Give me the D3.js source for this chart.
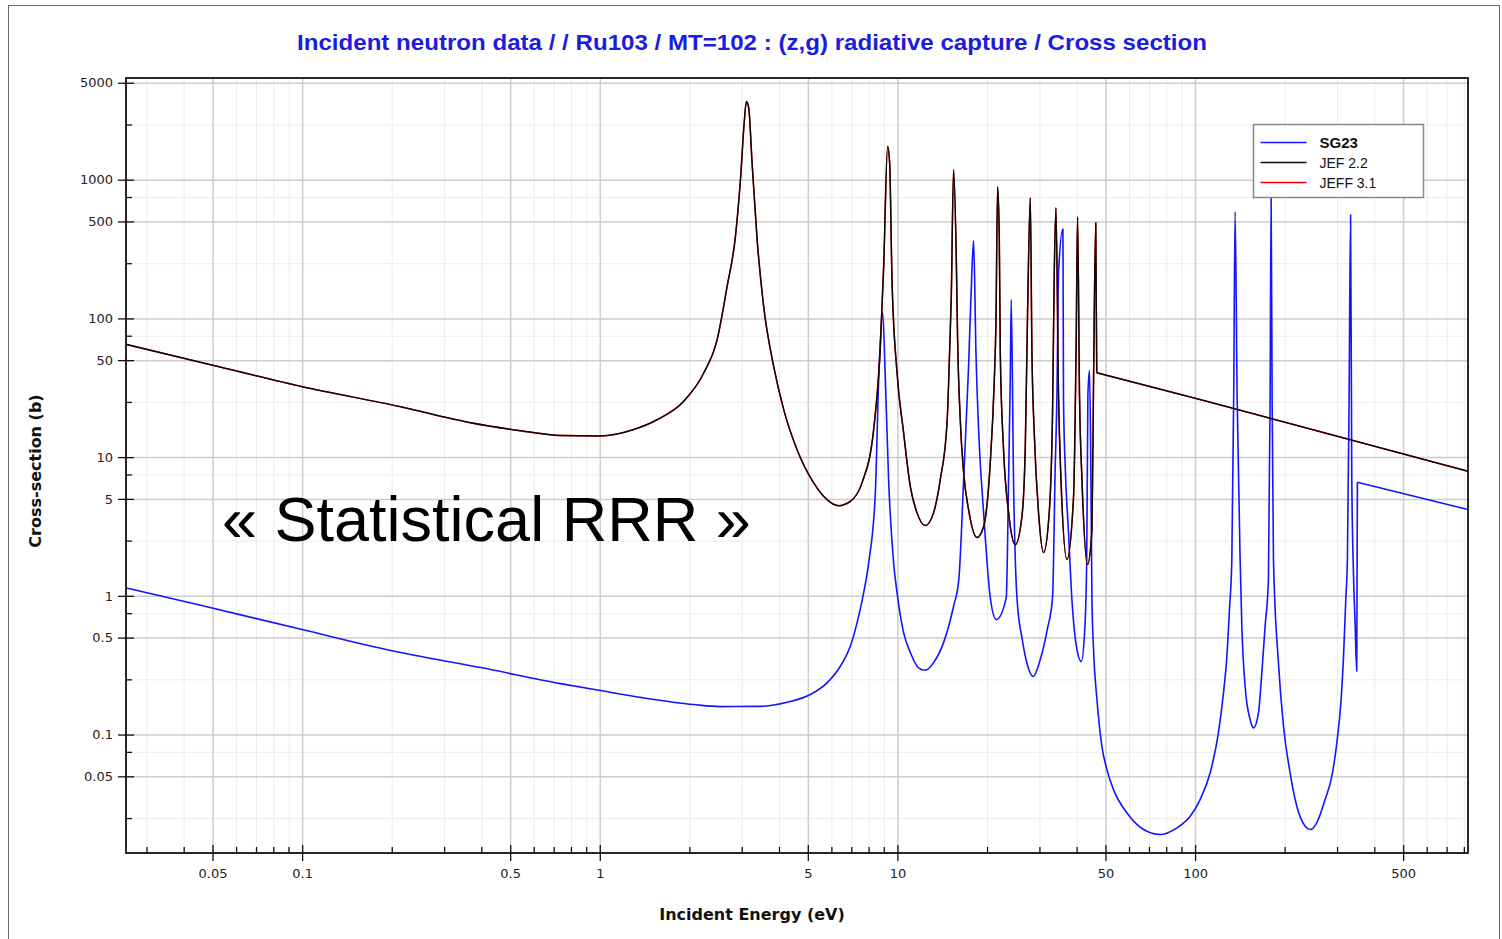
<!DOCTYPE html>
<html>
<head>
<meta charset="utf-8">
<script src="https://cdn.jsdelivr.net/npm/d3@7"></script>
<style>
body { margin: 0; background: #fff; }
svg { display: block; }
.tick text { font-family: "DejaVu Sans", sans-serif; font-size: 13px; fill: #222; }
</style>
</head>
<body>
<div id="chart"></div>
<script>
// values: incident energy (eV) and cross-section (b)
var sg23E = [0.0256, 0.0456, 0.1, 0.214, 0.3975, 0.738, 1.005, 1.405, 2.068, 2.543,
	3.464, 4.26, 5.10, 5.80, 6.43, 6.947, 7.317, 7.70, 8.006, 8.43,
	8.65, 8.92, 9.11, 9.34, 9.71, 9.97, 10.49, 11.05, 11.78, 12.41,
	13.23, 14.29, 15.44, 16.08, 16.69, 17.34, 17.80, 18.03, 18.36, 18.74,
	19.48, 20.51, 21.48, 23.21, 23.63, 23.94, 24.12, 24.55, 25.21, 26.27,
	27.31, 28.6, 30.19, 31.87, 33.2, 33.9, 34.35, 34.78, 35.98, 36.14,
	36.62, 37.57, 38.57, 40.1, 41.46, 42.6, 43.25, 43.65, 44.2, 44.67,
	45.04, 45.6, 46.81, 48.64, 50.56, 53.2, 59.0, 67.1, 76.3, 86.9,
	96.3, 104.0, 112.4, 119.8, 124.6, 127.9, 130.5, 132.9, 134.8, 136.3,
	138.5, 141.7, 143.6, 147.3, 153.1, 157.1, 163.3, 167.6, 171.9, 176.4,
	178.7, 180.1, 181.5, 183.4, 190.6, 198.2, 208.6, 219.7, 234.3, 243.5,
	256.4, 273.5, 288.0, 299.4, 309.5, 315.0, 320.9, 324.9, 329.2, 333.0,
	336.1, 340.3, 344.8, 349.3, 351.0, 826];
var sg23Xs = [1.14, 0.855, 0.571, 0.390, 0.304, 0.233, 0.2075, 0.1838, 0.1645, 0.1591,
	0.1597, 0.1709, 0.1942, 0.2358, 0.3107, 0.433, 0.638, 1.05, 1.73, 5.55,
	36.2, 110, 36.2, 6.88, 1.73, 1.055, 0.543, 0.390, 0.3025, 0.2906,
	0.330, 0.460, 0.841, 1.31, 6.88, 44.9, 224.6, 363, 56.6, 15.8,
	3.98, 0.971, 0.674, 0.971, 6.88, 36.2, 136.5, 6.88, 0.971, 0.484,
	0.320, 0.262, 0.347, 0.571, 0.971, 8.54, 27.3, 214, 440, 26.0,
	8.54, 2.86, 0.940, 0.410, 0.3365, 0.571, 1.83, 28.2, 42.2, 7.73,
	0.940, 0.410, 0.1788, 0.0823, 0.0559, 0.0401, 0.02727, 0.02067, 0.01903, 0.02127,
	0.02578, 0.0340, 0.0530, 0.1028, 0.1998, 0.3666, 0.796, 1.83, 26.0, 588,
	26.0, 1.83, 0.603, 0.2229, 0.1283, 0.1117, 0.1434, 0.2784, 0.603, 1.31,
	26.0, 754, 26.0, 1.83, 0.3286, 0.1148, 0.0530, 0.0304, 0.02183, 0.02067,
	0.0231, 0.0340, 0.0500, 0.0871, 0.1788, 0.347, 0.940, 1.83, 26.0, 559,
	7.27, 1.546, 0.642, 0.2859, 6.58, 4.19];

var jef22E = [0.0256, 0.05, 0.1, 0.214, 0.368, 0.542, 0.738, 1.0, 1.30, 1.558,
	1.915, 2.235, 2.479, 2.678, 2.856, 2.969, 3.062, 3.109, 3.165, 3.249,
	3.378, 3.553, 3.839, 4.149, 4.601, 5.232, 5.801, 6.347, 6.947, 7.604,
	8.32, 8.763, 8.99, 9.27, 9.415, 9.59, 9.97, 10.49, 11.05, 11.63,
	12.41, 13.23, 13.93, 14.68, 14.97, 15.17, 15.44, 15.77, 15.93, 16.26,
	16.69, 17.34, 18.51, 19.48, 20.51, 21.16, 21.43, 21.71, 21.99, 22.16,
	22.73, 23.63, 24.89, 26.2, 26.89, 27.37, 27.95, 28.31, 28.82, 29.79,
	30.97, 32.36, 33.2, 33.65, 34.09, 34.78, 35.44, 37.11, 39.06, 39.88,
	40.29, 40.91, 41.69, 43.53, 45.04, 45.6, 46.38, 46.74, 104, 826];
var jef22Xs = [65, 46, 32.2, 23.1, 17.7, 15.5, 14.3, 14.2, 15.8, 18.6,
	25.3, 40.4, 70.3, 170, 390, 1000, 2706, 3667, 3288, 1319,
	369, 122, 45.1, 22.0, 11.3, 6.52, 4.94, 4.47, 4.80, 6.52,
	15.8, 62.9, 237, 1738, 1326, 190, 40.6, 15.0, 6.13, 3.98,
	3.21, 3.98, 6.88, 17.7, 56.6, 143.5, 1181, 265, 70.3, 18.6,
	7.73, 4.18, 2.63, 3.16, 9.13, 36.2, 93.2, 890, 388, 56.6,
	11.3, 3.98, 2.34, 3.73, 11.9, 110, 742, 56.6, 15.0, 3.98,
	2.05, 3.98, 20.9, 214, 628, 27.3, 6.88, 1.83, 5.19, 73.9,
	541, 27.3, 6.88, 1.68, 3.00, 36.2, 490, 40.6, 26.0, 7.90];

// JEFF 3.1 sits on top of JEF 2.2 to within a pixel everywhere
var jeff31E = jef22E.slice();
var jeff31Xs = jef22Xs.slice();

// energy above which each evaluation is a plain smooth (1/v-like) tail
var sg23TailFrom = 351.0;
var jefTailFrom = 46.74;

var seriesNames = ['SG23', 'JEF 2.2', 'JEFF 3.1'];
var xMajor = [0.05, 0.1, 0.5, 1, 5, 10, 50, 100, 500];
var xMinor = [0.03, 0.04, 0.06, 0.07, 0.08, 0.09, 0.2, 0.3, 0.4, 0.6, 0.7, 0.8, 0.9,
	2, 3, 4, 6, 7, 8, 9, 20, 30, 40, 60, 70, 80, 90, 200, 300, 400, 600, 700, 800];
var yMajor = [0.05, 0.1, 0.5, 1, 5, 10, 50, 100, 500, 1000, 5000];
var yMinor = [0.025, 0.075, 0.25, 0.75, 2.5, 7.5, 25, 75, 250, 750, 2500];

(function () {

var width = 1502, height = 939;
var pLeft = 126, pRight = 1468, pTop = 78, pBottom = 853;

var svg = d3.select('#chart').append('svg')
	.attr('width', width)
	.attr('height', height);

svg.append('rect')
	.attr('x', 8.5).attr('y', 5.5)
	.attr('width', 1491).attr('height', 945)
	.attr('fill', 'none')
	.attr('stroke', '#666');

var x = d3.scaleLog().domain([0.0256, 826]).range([pLeft, pRight]);
var y = d3.scaleLog().domain([0.014, 5408]).range([pBottom, pTop]);

// grid, light for the minor steps, darker for the labelled ones
var grid = function (axis, values, colour, w) {
	var g = svg.append('g');
	if (axis === 'x')
		g.attr('transform', 'translate(0,' + pBottom + ')')
			.call(d3.axisBottom(x).tickValues(values).tickSize(-(pBottom - pTop)).tickFormat(''));
	else
		g.attr('transform', 'translate(' + pLeft + ',0)')
			.call(d3.axisLeft(y).tickValues(values).tickSize(-(pRight - pLeft)).tickFormat(''));
	g.select('.domain').remove();
	g.selectAll('line').attr('stroke', colour).attr('stroke-width', w);
};
grid('x', xMinor, '#ececec', 1);
grid('y', yMinor, '#ececec', 1);
grid('x', xMajor, '#cdcdcd', 1.5);
grid('y', yMajor, '#cdcdcd', 1.5);

svg.append('clipPath').attr('id', 'plotclip')
	.append('rect')
	.attr('x', pLeft).attr('y', pTop)
	.attr('width', pRight - pLeft).attr('height', pBottom - pTop);

var smooth = d3.line()
	.curve(d3.curveMonotoneX)
	.x(function (d) { return x(d[0]); })
	.y(function (d) { return y(d[1]); });
var straight = d3.line()
	.x(function (d) { return x(d[0]); })
	.y(function (d) { return y(d[1]); });

var curves = svg.append('g').attr('clip-path', 'url(#plotclip)');

// resonance part smoothed, tail drawn straight so it stays a clean line
var drawSeries = function (E, Xs, tailFrom, colour, w) {
	var pts = d3.zip(E, Xs);
	var k = E.indexOf(tailFrom);
	[[pts.slice(0, k + 1), smooth], [pts.slice(k), straight]].forEach(function (p) {
		curves.append('path')
			.datum(p[0])
			.attr('d', p[1])
			.attr('fill', 'none')
			.attr('stroke', colour)
			.attr('stroke-width', w)
			.attr('stroke-linejoin', 'round');
	});
};
drawSeries(sg23E, sg23Xs, sg23TailFrom, '#1414ff', 1.6);
drawSeries(jeff31E, jeff31Xs, jefTailFrom, '#ff0000', 1.4);
drawSeries(jef22E, jef22Xs, jefTailFrom, '#120606', 1.5);

// axes: labelled ticks cross the frame, minor ticks point inward only
var fmt = function (d) { return String(d); };
var ax = svg.append('g').attr('transform', 'translate(0,' + pBottom + ')')
	.call(d3.axisBottom(x).tickValues(xMajor).tickSize(8).tickPadding(8).tickFormat(fmt));
var axIn = svg.append('g').attr('transform', 'translate(0,' + pBottom + ')')
	.call(d3.axisBottom(x).tickValues(xMajor).tickSize(-8).tickFormat(''));
var axMin = svg.append('g').attr('transform', 'translate(0,' + pBottom + ')')
	.call(d3.axisBottom(x).tickValues(xMinor).tickSize(-6).tickFormat(''));
var ay = svg.append('g').attr('transform', 'translate(' + pLeft + ',0)')
	.call(d3.axisLeft(y).tickValues(yMajor).tickSize(8).tickPadding(5).tickFormat(fmt));
var ayIn = svg.append('g').attr('transform', 'translate(' + pLeft + ',0)')
	.call(d3.axisLeft(y).tickValues(yMajor).tickSize(-8).tickFormat(''));
var ayMin = svg.append('g').attr('transform', 'translate(' + pLeft + ',0)')
	.call(d3.axisLeft(y).tickValues(yMinor).tickSize(-6).tickFormat(''));
[ax, axIn, axMin, ay, ayIn, ayMin].forEach(function (g) {
	g.select('.domain').remove();
	g.selectAll('line').attr('stroke', '#111').attr('stroke-width', 1.3);
});

svg.append('rect')
	.attr('x', pLeft).attr('y', pTop)
	.attr('width', pRight - pLeft).attr('height', pBottom - pTop)
	.attr('fill', 'none')
	.attr('stroke', '#111')
	.attr('stroke-width', 1.8);

// titles
svg.append('text')
	.attr('x', 752).attr('y', 50)
	.attr('text-anchor', 'middle')
	.attr('textLength', 910)
	.attr('lengthAdjust', 'spacingAndGlyphs')
	.style('font-family', '"Liberation Sans", Arial, sans-serif')
	.style('font-weight', 'bold')
	.style('font-size', '22px')
	.attr('fill', '#1c1ce0')
	.text('Incident neutron data / / Ru103 / MT=102 : (z,g) radiative capture / Cross section');

svg.append('text')
	.attr('x', 752).attr('y', 920)
	.attr('text-anchor', 'middle')
	.style('font-family', '"DejaVu Sans", sans-serif')
	.style('font-weight', 'bold')
	.style('font-size', '16px')
	.attr('fill', '#111')
	.text('Incident Energy (eV)');

svg.append('text')
	.attr('transform', 'translate(41,471) rotate(-90)')
	.attr('text-anchor', 'middle')
	.style('font-family', '"DejaVu Sans", sans-serif')
	.style('font-weight', 'bold')
	.style('font-size', '16px')
	.attr('fill', '#111')
	.text('Cross-section (b)');

svg.append('text')
	.attr('x', 222).attr('y', 541)
	.style('font-family', '"Liberation Sans", Arial, sans-serif')
	.style('font-size', '63px')
	.attr('fill', '#000')
	.text('\u00ab Statistical RRR \u00bb');

// legend
var legend = svg.append('g').attr('transform', 'translate(1253.5,124.5)');
legend.append('rect')
	.attr('width', 170).attr('height', 73)
	.attr('fill', '#fff')
	.attr('stroke', '#888')
	.attr('stroke-width', 1.5);
var legendColours = ['#1414ff', '#120606', '#ff0000'];
seriesNames.forEach(function (name, i) {
	var row = 18 + i * 20;
	legend.append('line')
		.attr('x1', 7).attr('x2', 53)
		.attr('y1', row).attr('y2', row)
		.attr('stroke', legendColours[i])
		.attr('stroke-width', 1.5);
	legend.append('text')
		.attr('x', 66).attr('y', row + 5)
		.style('font-family', '"Liberation Sans", Arial, sans-serif')
		.style('font-weight', i === 0 ? 'bold' : 'normal')
		.style('font-size', i === 0 ? '15px' : '14px')
		.attr('fill', '#111')
		.text(name);
});

})();
</script>
</body>
</html>
